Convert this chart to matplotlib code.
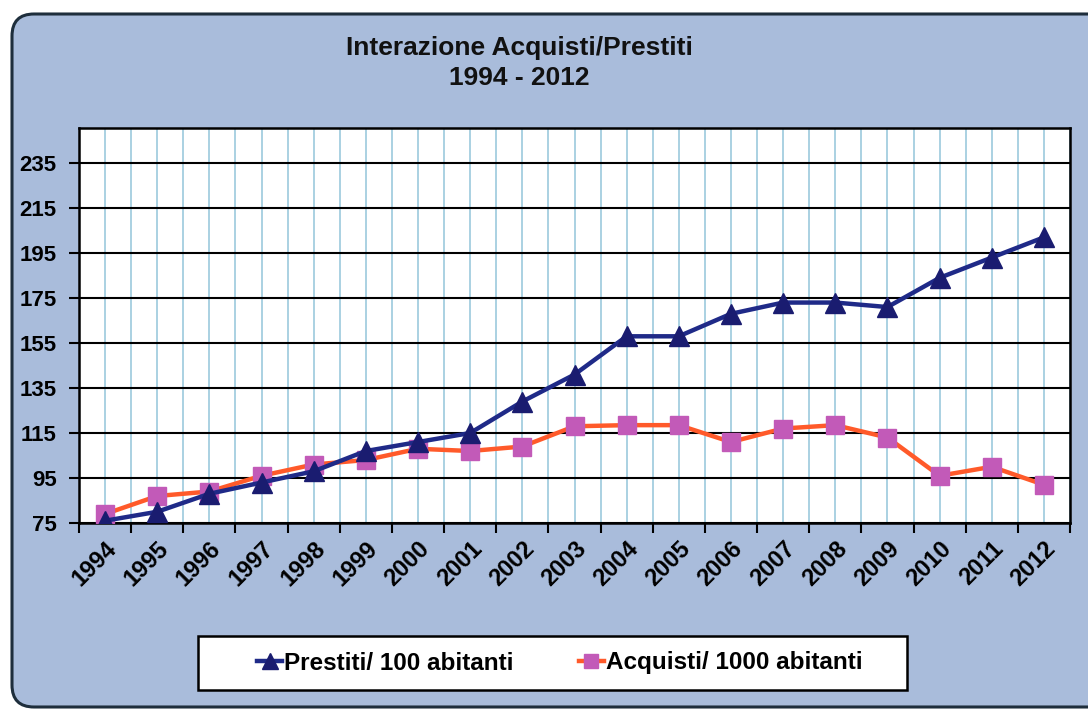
import numpy as np
import matplotlib
matplotlib.use("Agg")
import matplotlib.pyplot as plt
from matplotlib.patches import FancyBboxPatch, Rectangle
from matplotlib.transforms import IdentityTransform

# data
years = [str(y) for y in range(1994, 2013)]
prestiti = [76, 80, 88, 93, 98, 107, 111, 115, 129, 141, 158, 158, 168, 173, 173, 171, 184, 193, 202]
acquisti = [79, 87, 89, 96, 101, 103, 108, 107, 109, 118, 118.5, 118.5, 111, 117, 118.5, 113, 96, 100, 92]
yticks = list(range(75, 236, 20))

W, H = 1088, 713
plt.rcParams['font.family'] = ['Liberation Sans', 'DejaVu Sans']
plt.rcParams['font.weight'] = 'bold'

fig = plt.figure(figsize=(W / 100, H / 100), dpi=100)
fig.patch.set_facecolor('white')

# rounded blue panel behind everything
panel = FancyBboxPatch((12, H - 707), 1110, 693,
                       boxstyle='round,pad=0,rounding_size=22',
                       transform=IdentityTransform(),
                       facecolor='#A9BCDB', edgecolor='#1E2E3C', lw=2.2, zorder=0)
fig.add_artist(panel)

ax = fig.add_axes([79 / W, 1 - 523 / H, (1070 - 79) / W, (523 - 128) / H])
ax.set_facecolor('white')
x = np.arange(len(years))

ax.plot(x, prestiti, color='#1F2A88', lw=3.2, marker='^', ms=15,
        mfc='#1A1C70', mec='#1A1C70', zorder=4, label='Prestiti/ 100 abitanti')
ax.plot(x, acquisti, color='#FF5A2A', lw=3.2, marker='s', ms=13,
        mfc='#C25AB8', mec='#C25AB8', zorder=3, label='Acquisti/ 1000 abitanti')

ax.set_xlim(-0.5, len(years) - 0.5)
ax.set_ylim(75, 250.6)
ax.set_yticks(yticks)
ax.set_yticklabels([str(v) for v in yticks], fontsize=16, fontweight='bold')

# tick marks at category boundaries, labels at centers
ax.set_xticks(np.arange(-0.5, len(years), 1.0))
ax.set_xticklabels([])
ax.set_xticks(x, minor=True)
ax.set_xticklabels(years, minor=True, rotation=45, ha='right', va='top',
                   rotation_mode='anchor', fontsize=17, fontweight='bold')
ax.tick_params(axis='x', which='minor', length=0, pad=10)
ax.tick_params(axis='both', which='major', length=7, width=1.5, color='black',
               direction='out')
ax.tick_params(axis='y', pad=9)

# grid: light blue vertical lines every half category, black horizontals
for xv in np.arange(-0.5, len(years), 0.5):
    ax.axvline(xv, color='#9CC9DD', lw=1.2, zorder=1)
for yv in yticks:
    ax.axhline(yv, color='black', lw=1.5, zorder=1)

for s in ax.spines.values():
    s.set_color('black')
    s.set_linewidth(1.8)

fig.text(519 / W, 1 - 48 / H, 'Interazione Acquisti/Prestiti', ha='center', va='center',
         fontsize=19, fontweight='bold', color='#111111')
fig.text(519 / W, 1 - 78 / H, '1994 - 2012', ha='center', va='center',
         fontsize=19, fontweight='bold', color='#111111')

# legend box
box = Rectangle((198, H - 690), 709, 54, transform=IdentityTransform(),
                facecolor='white', edgecolor='black', lw=1.8, zorder=5)
fig.add_artist(box)
handles, labels = ax.get_legend_handles_labels()
leg = fig.legend(handles, labels, loc='center', bbox_to_anchor=(560 / W, 1 - 663 / H),
                 ncol=2, frameon=False, fontsize=17.5, handlelength=1.0,
                 handletextpad=0.1, columnspacing=2.7, markerscale=0.8)
leg.set_zorder(6)
for t in leg.get_texts():
    t.set_fontweight('bold')

fig.savefig('out.png', dpi=100)
